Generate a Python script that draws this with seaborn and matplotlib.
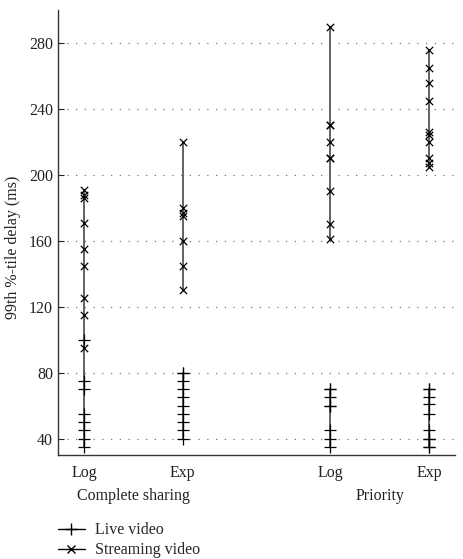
import pandas as pd
import seaborn as sns
import matplotlib.pyplot as plt
from matplotlib.lines import Line2D

# x positions of the four scheme/rule columns
positions = [1.0, 2.0, 3.5, 4.5]
tick_labels = ["Log", "Exp", "Log", "Exp"]
group_names = ["Complete sharing", "Priority"]

# 99th percentile delay (ms)
live_cs_log = [100, 75, 70, 55, 50, 45, 40, 35]
live_cs_exp = [80, 80, 75, 70, 65, 60, 55, 50, 45, 40]
live_pr_log = [70, 70, 65, 60, 60, 45, 40, 35]
live_pr_exp = [70, 70, 65, 61, 55, 45, 40, 40, 35, 35]

stream_cs_log = [191, 188, 186, 171, 155, 145, 125, 115, 95]
stream_cs_exp = [220, 180, 177, 175, 160, 145, 130]
stream_pr_log = [290, 230, 230, 220, 210, 210, 190, 170, 161]
stream_pr_exp = [276, 265, 256, 245, 226, 224, 220, 210, 207, 205]

live = [live_cs_log, live_cs_exp, live_pr_log, live_pr_exp]
stream = [stream_cs_log, stream_cs_exp, stream_pr_log, stream_pr_exp]

rows = []
for i, pos in enumerate(positions):
    for v in live[i]:
        rows.append({"pos": pos, "delay": v, "traffic": "Live video", "unit": f"L{i}"})
    for v in stream[i]:
        rows.append({"pos": pos, "delay": v, "traffic": "Streaming video", "unit": f"S{i}"})
df = pd.DataFrame(rows)

sns.set_style("ticks")
plt.rcParams['font.family'] = ['Liberation Serif', 'DejaVu Serif']

fig = plt.figure(figsize=(4.63, 5.59), dpi=100)
ax = fig.add_axes([0.125, 0.186, 0.858, 0.796])

# vertical range lines
sns.lineplot(data=df, x="pos", y="delay", units="unit", estimator=None,
             orient="y", sort=True, color="#555555", linewidth=1.3,
             legend=False, ax=ax)

live_df = df[df["traffic"] == "Live video"]
stream_df = df[df["traffic"] == "Streaming video"]
sns.scatterplot(data=live_df, x="pos", y="delay", marker="+", s=70,
                color="black", linewidth=0.9, legend=False, ax=ax, zorder=3)
sns.scatterplot(data=stream_df, x="pos", y="delay", marker="x", s=28,
                color="black", linewidth=0.9, legend=False, ax=ax, zorder=3)

ax.set_xlim(0.735, 4.765)
ax.set_ylim(30, 300)
ax.set_yticks(range(40, 281, 40))
ax.set_xticks(positions)
ax.set_xticklabels(tick_labels, fontsize=11.5, color="#222222")
ax.tick_params(axis="y", direction="in", length=4, labelsize=11.5, colors="#222222")
ax.tick_params(axis="x", length=0, pad=7, labelsize=11.5)
ax.set_xlabel("")
ax.set_ylabel("99th %-tile delay (ms)", fontsize=11.5, labelpad=6, color="#222222")
ax.yaxis.set_label_coords(-0.094, 0.467)
ax.yaxis.grid(True, linestyle=(0, (1, 6)), color="#777777", linewidth=0.9)
ax.set_axisbelow(True)
for s in ["top", "right"]:
    ax.spines[s].set_visible(False)
for s in ["left", "bottom"]:
    ax.spines[s].set_color("#333333")
    ax.spines[s].set_linewidth(1.0)

# group labels under the tick labels
ax.text((positions[0] + positions[1]) / 2, -0.092, group_names[0],
        transform=ax.get_xaxis_transform(), ha="center", va="center",
        fontsize=11.5, color="#222222")
ax.text((positions[2] + positions[3]) / 2, -0.092, group_names[1],
        transform=ax.get_xaxis_transform(), ha="center", va="center",
        fontsize=11.5, color="#222222")

handles = [
    Line2D([], [], color="black", linewidth=1.0, marker="+", markersize=9),
    Line2D([], [], color="black", linewidth=1.0, marker="x", markersize=5.5),
]
fig.legend(handles, ["Live video", "Streaming video"], loc="upper left",
           bbox_to_anchor=(0.125, 0.066), frameon=False, fontsize=11.5,
           handlelength=1.7, handletextpad=0.6, labelspacing=0.25,
           borderpad=0.0, borderaxespad=0.0)

fig.savefig("out.png", dpi=100)
